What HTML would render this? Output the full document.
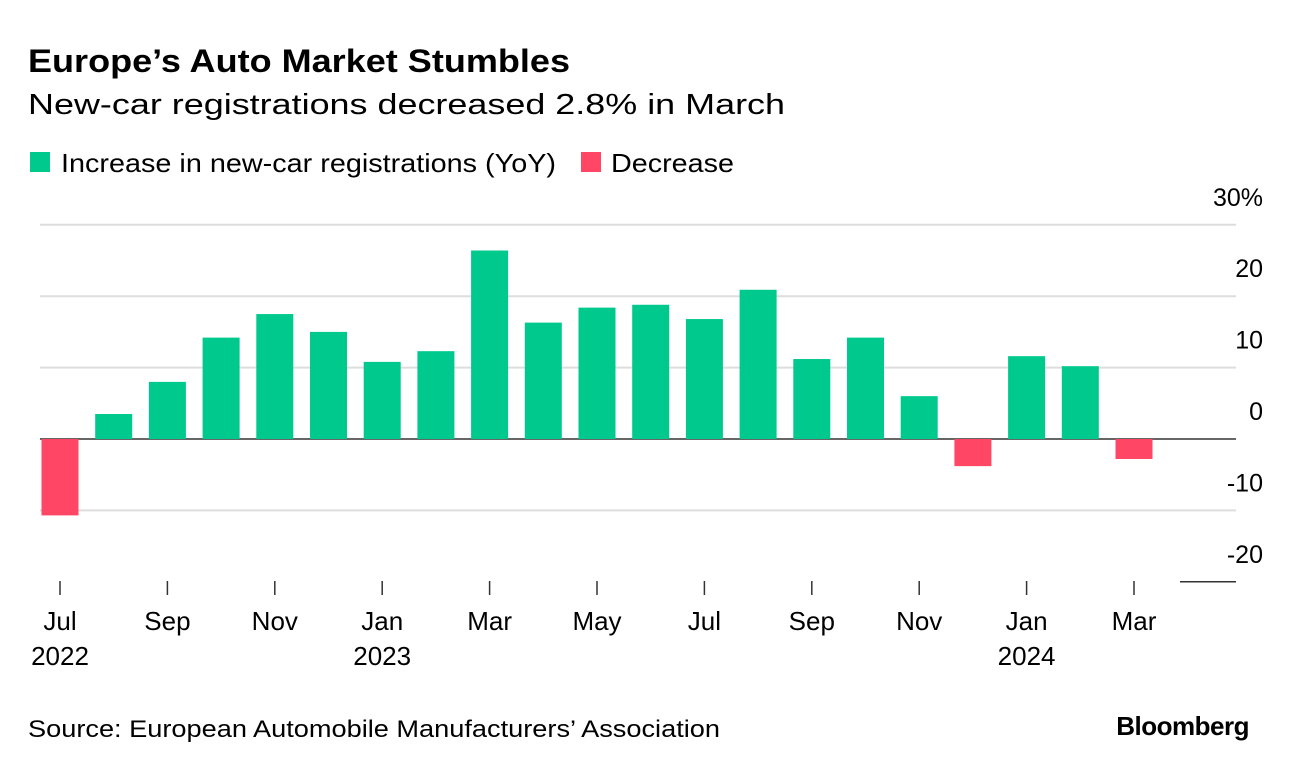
<!DOCTYPE html>
<html><head><meta charset="utf-8"><style>
body{margin:0;background:#fff;font-family:"Liberation Sans",sans-serif;}
svg text{font-family:"Liberation Sans",sans-serif;}
</style></head><body>
<svg id="chart" width="1289" height="770" xmlns="http://www.w3.org/2000/svg">
<text x="28" y="72" font-size="32" font-weight="bold" fill="#000" textLength="542" lengthAdjust="spacingAndGlyphs">Europe’s Auto Market Stumbles</text>
<text x="28" y="114" font-size="29" fill="#000" textLength="757" lengthAdjust="spacingAndGlyphs">New-car registrations decreased 2.8% in March</text>
<g>
<rect x="30" y="152" width="20" height="20" fill="#00c98d"/>
<text x="61" y="172" font-size="26" textLength="495" lengthAdjust="spacingAndGlyphs">Increase in new-car registrations (YoY)</text>
<rect x="581" y="152" width="20" height="20" fill="#ff4765"/>
<text x="611" y="172" font-size="26" textLength="123" lengthAdjust="spacingAndGlyphs">Decrease</text>
</g>
<g id="grid"></g><g id="bars"></g><g id="xaxis"></g>
<text x="28" y="737" font-size="24" textLength="692" lengthAdjust="spacingAndGlyphs">Source: European Automobile Manufacturers’ Association</text>
<text x="1249" y="735" font-size="26" font-weight="bold" text-anchor="end" letter-spacing="-0.5">Bloomberg</text>
</svg>
<script>
const months=["Jul","Aug","Sep","Oct","Nov","Dec","Jan","Feb","Mar","Apr","May","Jun","Jul","Aug","Sep","Oct","Nov","Dec","Jan","Feb","Mar"];
const values=[-10.7,3.5,8.0,14.2,17.5,15.0,10.8,12.3,26.4,16.3,18.4,18.8,16.8,20.9,11.2,14.2,6.0,-3.8,11.6,10.2,-2.8];
const yTicks=[30,20,10,0,-10,-20];
const yLabels=["30%","20","10","0","-10","-20"];
const yearLabels={0:"2022",6:"2023",18:"2024"};
const NS="http://www.w3.org/2000/svg";
const y=v=>439-v*7.14;
const x=i=>60+i*53.7;
function mk(t,a,p){const e=document.createElementNS(NS,t);for(const k in a)e.setAttribute(k,a[k]);document.getElementById(p).appendChild(e);return e;}
yTicks.forEach((v,i)=>{
 const l=mk("line",{x1:v===-20?1180:40,x2:1236,y1:y(v),y2:y(v),stroke:v===0||v===-20?"#333":"#ddd","stroke-width":v===0||v===-20?1.5:2},"grid");
 
 
 const t=mk("text",{x:1263,y:y(v)-19,"font-size":25,"text-anchor":"end"},"grid");
 t.textContent=yLabels[i];
 
 
});
values.forEach((v,i)=>{
 const r=mk("rect",{x:x(i)-18.5,width:37,y:Math.min(y(v),y(0)),height:Math.abs(y(v)-y(0)),fill:v>=0?"#00c98d":"#ff4765"},"bars");
 
 
 if(i%2===0){
  const tk=mk("line",{x1:x(i),x2:x(i),y1:581,y2:595,stroke:"#333","stroke-width":1.5},"xaxis");
  
  
  const t=mk("text",{x:x(i),y:630,"font-size":26,"text-anchor":"middle"},"xaxis");
  t.textContent=months[i];
  
  
  if(yearLabels[i]){
   const yt=mk("text",{x:x(i),y:665,"font-size":26,"text-anchor":"middle"},"xaxis");
   yt.textContent=yearLabels[i];
   
   
  }
 }
});
</script>
</body></html>
